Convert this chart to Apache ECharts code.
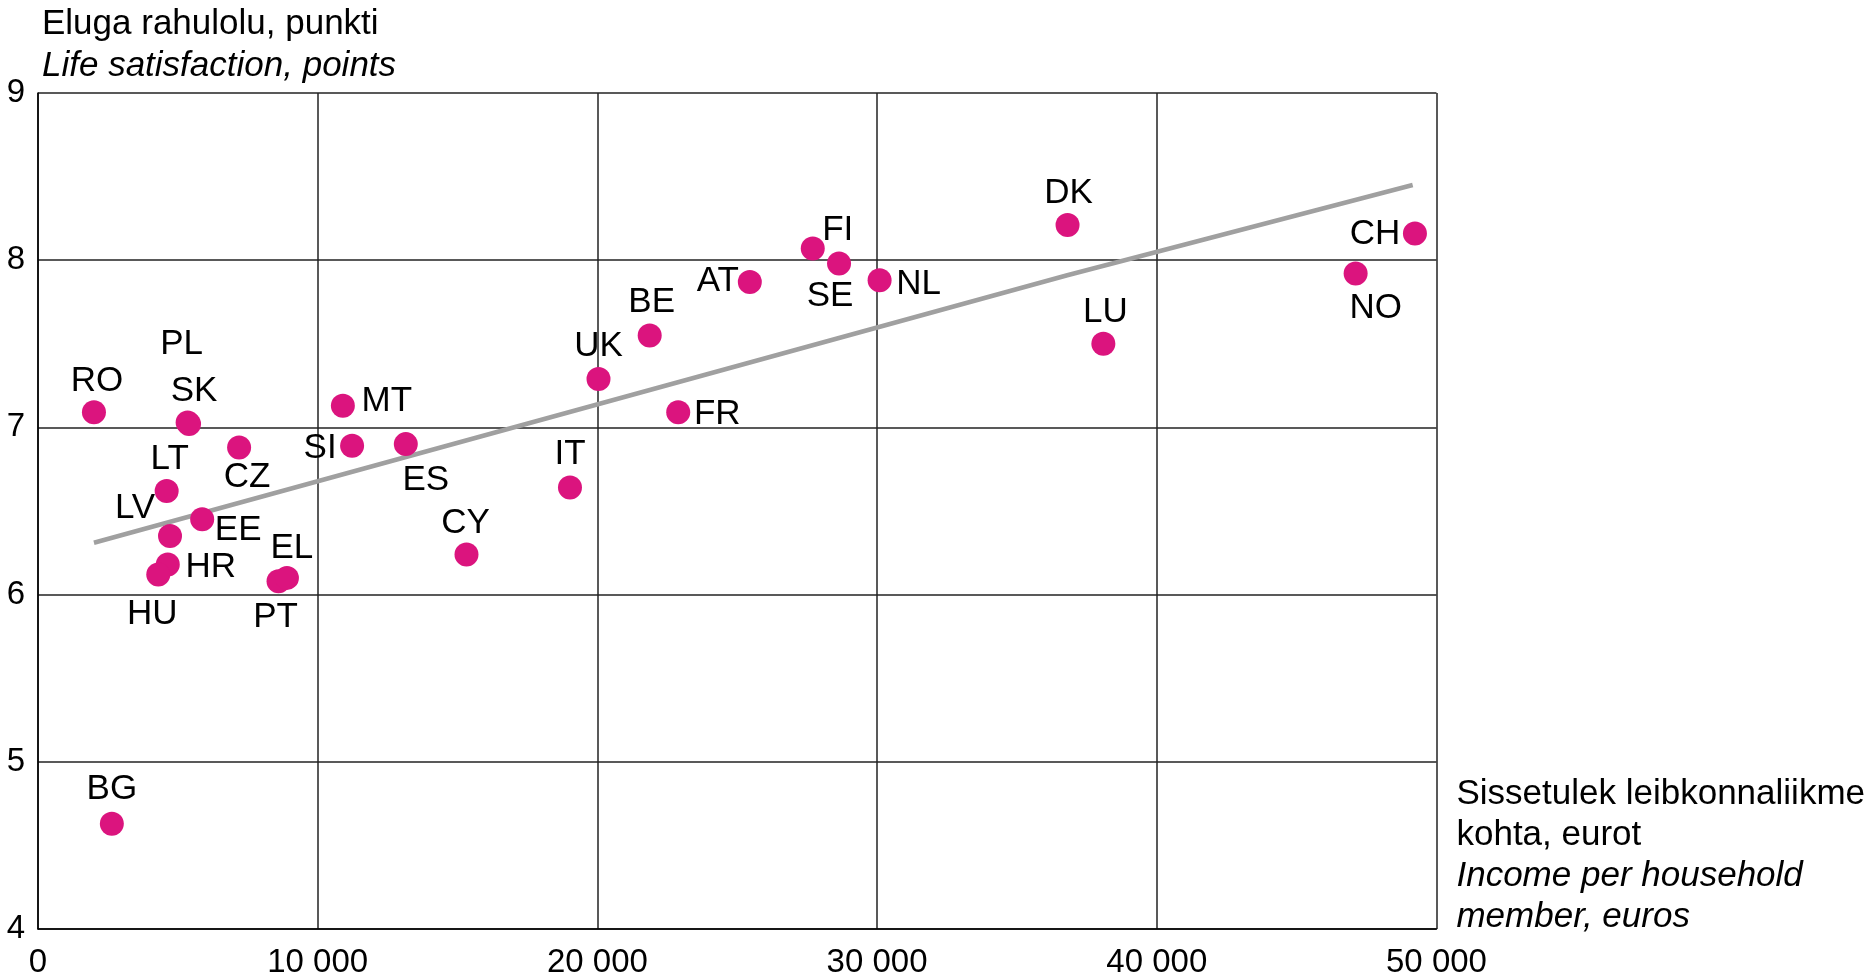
<!DOCTYPE html>
<html>
<head>
<meta charset="utf-8">
<script src="https://cdn.jsdelivr.net/npm/echarts@6/dist/echarts.min.js"></script>
<style>
html,body{margin:0;padding:0;background:#fff;}
#chart{width:1868px;height:979px;}
</style>
</head>
<body>
<div id="chart"></div>
<script>
// ---- data ----
const countries = ['RO','PL','SK','CZ','LT','LV','EE','HR','HU','PT','EL','BG','MT','SI','ES','CY','IT','UK','BE','FR','AT','FI','SE','NL','DK','LU','NO','CH'];
const income =       [2000, 5350, 5400, 7190, 4600, 4720, 5870, 4640, 4300, 8600, 8900, 2640, 10900, 11230, 13150, 15320, 19020, 20040, 21870, 22890, 25450, 27700, 28640, 30090, 36810, 38090, 47110, 49230];
const satisfaction = [7.09, 7.03, 7.02, 6.88, 6.62, 6.35, 6.45, 6.18, 6.12, 6.08, 6.10, 4.63, 7.13, 6.89, 6.90, 6.24, 6.64, 7.29, 7.55, 7.09, 7.87, 8.07, 7.98, 7.88, 8.21, 7.50, 7.92, 8.16];
const trendIncome = [2000, 36800, 49150];
const trendSatisfaction = [6.31, 7.91, 8.45];
const xTickLabels = ['0', '10 000', '20 000', '30 000', '40 000', '50 000'];
const yTickLabels = ['4', '5', '6', '7', '8', '9'];

// ---- label placement (style): label centre relative to the dot centre, px ----
const labelShift = {
  RO: [3, -31], PL: [-6, -78], SK: [5, -33], CZ: [8, 30], LT: [3, -32],
  LV: [-35, -28], EE: [36, 11], HR: [43, 3], HU: [-6, 40], PT: [-3, 36],
  EL: [5, -30], BG: [0, -34], MT: [44, -4], SI: [-32, 3], ES: [20, 36],
  CY: [-1, -31], IT: [0, -33], UK: [0, -33], BE: [2, -33], FR: [39, 2],
  AT: [-32, -1], FI: [25, -18], SE: [-9, 33], NL: [39, 4], DK: [1, -32],
  LU: [2, -31], NO: [20, 35], CH: [-40, 1]
};

const FONT = '"Liberation Sans", Arial, Helvetica, sans-serif';
const DOT = '#DB147E';

const scatterData = countries.map((c, i) => ({name: c, value: [income[i], satisfaction[i]]}));
const trendData = trendIncome.map((x, i) => [x, trendSatisfaction[i]]);

const chart = echarts.init(document.getElementById('chart'), null, {renderer: 'canvas'});
chart.setOption({
  animation: false,
  backgroundColor: '#ffffff',
  title: {
    text: 'Eluga rahulolu, punkti',
    subtext: 'Life satisfaction, points',
    left: 42,
    top: 4,
    padding: 0,
    itemGap: 2,
    textStyle: {fontFamily: FONT, fontSize: 35, fontWeight: 'normal', color: '#000', lineHeight: 40},
    subtextStyle: {fontFamily: FONT, fontSize: 35, fontStyle: 'italic', color: '#000', lineHeight: 40}
  },
  grid: {left: 38, right: 429, top: 93, bottom: 45, containLabel: false},
  xAxis: {
    type: 'value',
    min: 0, max: 50000, interval: 10000,
    axisLine: {show: true, lineStyle: {color: '#000', width: 1.5}},
    axisTick: {show: false},
    splitLine: {show: true, lineStyle: {color: '#222', width: 1.5}},
    axisLabel: {
      fontFamily: FONT, fontSize: 33, color: '#000', margin: 17,
      formatter: (v) => xTickLabels[Math.round(v / 10000)]
    },
    name: '{a|Sissetulek leibkonnaliikme}\n{a|kohta, eurot}\n{b|Income per household}\n{b|member, euros}',
    nameLocation: 'end',
    nameGap: 20,
    nameTextStyle: {
      align: 'left', verticalAlign: 'bottom',
      padding: [0, 0, -9, 0],
      rich: {
        a: {fontFamily: FONT, fontSize: 35, color: '#000', lineHeight: 41},
        b: {fontFamily: FONT, fontSize: 35, color: '#000', fontStyle: 'italic', lineHeight: 41}
      }
    }
  },
  yAxis: {
    type: 'value',
    min: 4, max: 9, interval: 1,
    axisLine: {show: true, lineStyle: {color: '#000', width: 1.5}},
    axisTick: {show: false},
    splitLine: {show: true, lineStyle: {color: '#222', width: 1.5}},
    axisLabel: {
      fontFamily: FONT, fontSize: 33, color: '#000', margin: 13,
      formatter: (v) => yTickLabels[Math.round(v - 4)]
    }
  },
  series: [
    {
      type: 'line',
      data: trendData,
      symbol: 'none',
      z: 1,
      lineStyle: {color: '#A0A0A0', width: 4.5},
      silent: true
    },
    {
      type: 'scatter',
      data: scatterData,
      symbol: 'circle',
      symbolSize: 24,
      z: 3,
      itemStyle: {color: DOT, opacity: 1},
      label: {
        show: true,
        position: 'inside',
        align: 'center',
        verticalAlign: 'middle',
        formatter: '{b}',
        fontFamily: FONT, fontSize: 35, color: '#000'
      },
      labelLayout: function (params) {
        const s = labelShift[countries[params.dataIndex]] || [0, -35];
        return {dx: s[0], dy: s[1], hideOverlap: false};
      }
    }
  ]
});
</script>
</body>
</html>
